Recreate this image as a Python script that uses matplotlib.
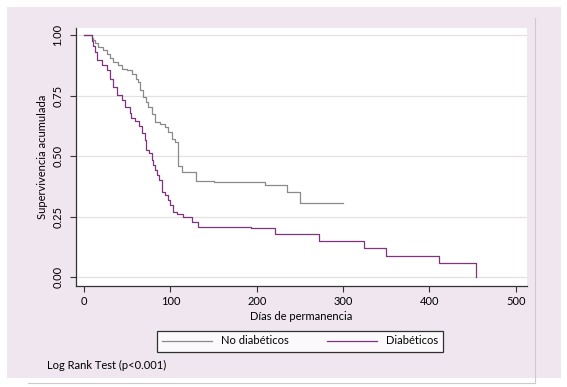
import matplotlib
matplotlib.use("Agg")
import matplotlib.pyplot as plt
from matplotlib.patches import Rectangle
from matplotlib.lines import Line2D

plt.rcParams["font.family"] = ["Lato", "DejaVu Sans"]

# Kaplan-Meier steps (day, survival)
no_diab_t = [0, 9, 10.8, 12.7, 16.6, 22.4, 26.3, 30.1, 34, 39.8, 43.6, 49.4, 55.2,
             60.3, 63, 64.9, 68.8, 71.8, 74.6, 78.4, 82.3, 88.1, 93.9, 97.7, 101.6,
             105.4, 109.3, 113.2, 130, 150, 210, 235, 250, 300]
no_diab_s = [1.0, 0.99, 0.98, 0.967, 0.952, 0.938, 0.924, 0.904, 0.89, 0.876, 0.862,
             0.855, 0.84, 0.82, 0.807, 0.772, 0.745, 0.724, 0.704, 0.676, 0.642, 0.635,
             0.621, 0.6, 0.573, 0.559, 0.459, 0.435, 0.398, 0.393, 0.38, 0.353, 0.305,
             0.305]

diab_t = [0, 8.9, 10.5, 12.7, 14.7, 20.5, 26.3, 30.1, 33.2, 37.8, 43.6, 47.5, 53.3,
          54.1, 59.1, 64.1, 66.8, 70.7, 71.8, 75.7, 78.4, 80.3, 82.3, 84.2, 86.9,
          90, 93.9, 97.7, 99.7, 103.5, 107.4, 115, 124.8, 132, 193, 221, 272, 324.5,
          349.6, 410.6, 453.8]
diab_s = [1.0, 0.975, 0.955, 0.93, 0.897, 0.876, 0.855, 0.82, 0.786, 0.752, 0.731,
          0.702, 0.678, 0.657, 0.645, 0.624, 0.595, 0.566, 0.525, 0.512, 0.483, 0.463,
          0.442, 0.42, 0.40, 0.353, 0.339, 0.318, 0.298, 0.270, 0.26, 0.249, 0.229,
          0.208, 0.201, 0.18, 0.15, 0.119, 0.088, 0.059, 0.0]

x_ticks = [0, 100, 200, 300, 400, 500]
y_ticks = [0.0, 0.25, 0.5, 0.75, 1.0]

fig = plt.figure(figsize=(5.67, 3.87), dpi=100)
fig.patch.set_facecolor("white")

# lavender graph region + thin frame
fig.patches.append(Rectangle((7 / 567, 1 - 378 / 387), 554 / 567, 371 / 387,
                             transform=fig.transFigure, facecolor="#efe6f0",
                             edgecolor="none", zorder=-10))
fig.lines.append(Line2D([535 / 567, 535 / 567], [1 - 383 / 387, 1 - 18 / 387],
                        transform=fig.transFigure, color="#d0c8d0", lw=0.8, zorder=-5))
fig.lines.append(Line2D([28 / 567, 535 / 567], [1 - 383 / 387, 1 - 383 / 387],
                        transform=fig.transFigure, color="#d0c8d0", lw=0.8, zorder=-5))

ax = fig.add_axes([76 / 567, 1 - 286 / 387, 451 / 567, 258 / 387])
ax.set_facecolor("white")

ax.step(no_diab_t, no_diab_s, where="post", color="#8a8a8a", lw=0.9)
ax.step(diab_t + [diab_t[-1]], diab_s + [diab_s[-1]], where="post", color="#7d347d", lw=0.9)

ax.set_xlim(-9.3, 513)
ax.set_ylim(-0.037, 1.03)
ax.set_xticks(x_ticks)
ax.set_yticks(y_ticks)
ax.set_yticklabels([f"{v:.2f}" for v in y_ticks], rotation=90, va="center")
ax.tick_params(labelsize=8, length=4, width=0.8, color="#333333", pad=3)
ax.tick_params(axis="y", pad=5)
ax.yaxis.grid(True, color="#e2e2e2", lw=0.9)
ax.set_axisbelow(True)
for side in ("top", "right"):
    ax.spines[side].set_visible(False)
for side in ("left", "bottom"):
    ax.spines[side].set_color("#333333")
    ax.spines[side].set_linewidth(0.9)

ax.set_xlabel("Días de permanencia", fontsize=8, labelpad=3)
ax.set_ylabel("Supervivencia acumulada", fontsize=8, labelpad=3)

# legend
handles = [Line2D([], [], color="#8a8a8a", lw=0.9), Line2D([], [], color="#7d347d", lw=0.9)]
leg = fig.legend(handles, ["No diabéticos", "Diabéticos"], loc="center",
                 bbox_to_anchor=(300 / 567, 1 - 341 / 387), ncol=2, fontsize=8,
                 frameon=True, fancybox=False, edgecolor="black", handlelength=4.5,
                 columnspacing=3.5, handletextpad=0.8, borderpad=0.45)
leg.get_frame().set_linewidth(0.9)

fig.text(47 / 567, 1 - 365 / 387, "Log Rank Test (p<0.001)", fontsize=8, va="center")

fig.savefig("out.png", dpi=100)
